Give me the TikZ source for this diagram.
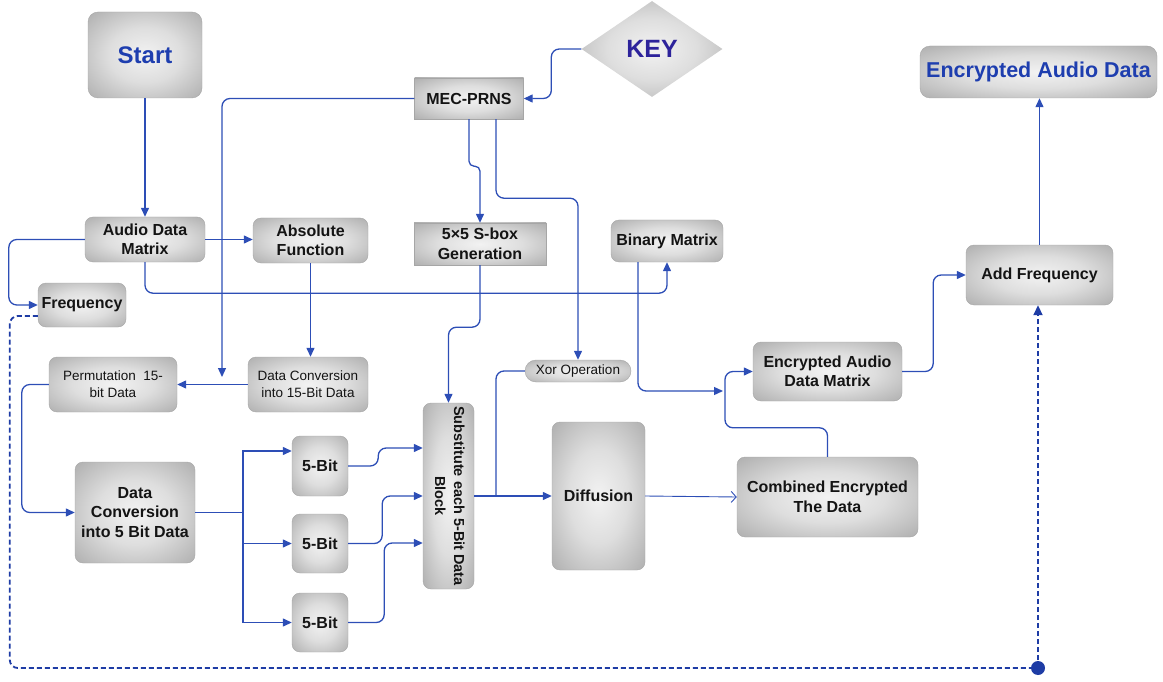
\documentclass[tikz,border=0pt]{standalone}
\usepackage{fontspec}
\setmainfont{Liberation Sans}
\usetikzlibrary{arrows.meta,shapes.geometric,calc}
\definecolor{lb}{RGB}{45,78,182}
\definecolor{db}{RGB}{30,60,165}
\definecolor{startblue}{RGB}{30,62,175}
\definecolor{keyblue}{RGB}{45,35,155}
\pgfdeclareradialshading{boxshade}{\pgfpoint{0bp}{0bp}}{color(0bp)=(black!5); color(16bp)=(black!13); color(34bp)=(black!30); color(48bp)=(black!46); color(72bp)=(black!54)}
\tikzset{
  box/.style={shading=boxshade, rounded corners=8pt, draw=black!35, line width=0.4pt,
    font=\bfseries\fontsize{16}{19.5}\selectfont, align=center, inner sep=0pt, text=black!92},
  sharpbox/.style={box, rounded corners=0pt},
  thinbox/.style={box, font=\fontsize{13.5}{17}\selectfont},
  conn/.style={draw=lb, line width=1.3pt, rounded corners=8pt, -{Triangle[length=9pt,width=8pt]}},
  plain/.style={draw=lb, line width=1.3pt, rounded corners=8pt},
  dashline/.style={draw=db, line width=1.8pt, dash pattern=on 5pt off 3pt, rounded corners=8pt}
}
\begin{document}
\begin{tikzpicture}[x=1pt,y=-1pt]
\useasboundingbox (0,0) rectangle (1163,682);

% nodes
\node[box, rounded corners=10pt, minimum width=114, minimum height=86, text=startblue,
  font=\bfseries\fontsize{24}{28}\selectfont] (start) at (145,55) {Start};
\node[diamond, shading=boxshade, minimum width=141, minimum height=96, inner sep=0pt,
  text=keyblue, font=\bfseries\fontsize{25}{28}\selectfont] (key) at (652,49) {KEY};
\node[sharpbox, minimum width=109, minimum height=41] (mec) at (469,98.5) {MEC-PRNS};
\node[box, rounded corners=10pt, minimum width=237, minimum height=52, text=startblue,
  font=\bfseries\fontsize{21.5}{24}\selectfont] (ead) at (1038.5,72) {Encrypted Audio Data};
\node[box, minimum width=120, minimum height=45] (adm) at (145,239.5) {Audio Data\\Matrix};
\node[box, minimum width=115, minimum height=45] (absf) at (310.5,240.5) {Absolute\\Function};
\node[sharpbox, minimum width=132, minimum height=42] (sbox) at (480,244) {5×5 S-box\\Generation};
\node[box, minimum width=112, minimum height=42] (bin) at (667,241) {Binary Matrix};
\node[box, minimum width=147, minimum height=60] (addf) at (1039.5,275) {Add Frequency};
\node[box, minimum width=88, minimum height=44] (freq) at (82,305) {Frequency};
\node[thinbox, minimum width=128, minimum height=55] (perm) at (113,384.5) {Permutation~~15-\\bit Data};
\node[thinbox, minimum width=120, minimum height=55] (dc15) at (308,384.5) {Data Conversion\\into 15-Bit Data};
\node[thinbox, rounded corners=11pt, minimum width=106, minimum height=22] (xor) at (578,371) {Xor Operation};
\node[box, minimum width=149, minimum height=59] (eadm) at (827.5,371.5) {Encrypted Audio\\Data Matrix};
\node[box, minimum width=51, minimum height=186, font=\bfseries\fontsize{14.5}{19}\selectfont] (subs) at (448.5,496)
  {\rotatebox{-90}{\begin{tabular}{@{}c@{}}Substitute each 5-Bit Data\\Block\end{tabular}}};
\node[box, minimum width=93, minimum height=148] (diff) at (598.5,496) {Diffusion};
\node[box, minimum width=181, minimum height=80] (comb) at (827.5,497) {Combined Encrypted\\The Data};
\node[box, minimum width=120, minimum height=101] (dc5) at (135,512.5) {Data\\Conversion\\into 5 Bit Data};
\node[box, minimum width=56, minimum height=60] (b1) at (320,466) {5-Bit};
\node[box, minimum width=56, minimum height=59] (b2) at (320,543.5) {5-Bit};
\node[box, minimum width=56, minimum height=59] (b3) at (320,622.5) {5-Bit};

% junction coordinates
\coordinate (j1) at (222,377);
\coordinate (br) at (243,512.5);
\coordinate (xj) at (496,496);
\coordinate (bj) at (723,391);
\coordinate (dot) at (1038,668);

% connectors
\draw[conn] (start.south) -- (adm.north);
\draw[conn] (key.west) -- ++(-30,0) |- (mec.east);
\draw[conn] (mec.west) -| (j1);
\draw[conn, rounded corners=5pt] (mec.south) -- ++(0,47) -| (sbox.north);
\draw[conn] ([xshift=27pt]mec.south) -- ++(0,79) -| (xor.north);
\draw[conn] (adm.east) -- (adm.east -| absf.west);
\draw[conn] (adm.west) -- ++(-76,0) |- (freq.west);
\draw[conn] (adm.south) -- ++(0,31) -| (bin.south);
\draw[conn] (absf.south) -- (absf.south |- dc15.north);
\draw[conn] (dc15.west) -- (dc15.west -| perm.east);
\draw[conn] (perm.west) -- ++(-27,0) |- (dc5.west);
\draw[plain] (dc5.east) -- (br);
\draw[conn, sharp corners] (br) |- ([yshift=15pt]b1.west);
\draw[conn, sharp corners] (br) |- (b2.west);
\draw[conn, sharp corners] (br) |- (b3.west);
\draw[conn] (b1.east) -- ++(30,0) |- ([yshift=48pt]subs.west);
\draw[conn] (b2.east) -- ++(34,0) |- (subs.west);
\draw[conn] (b3.east) -- ++(36,0) |- ([yshift=-47pt]subs.west);
\draw[conn] (sbox.south) -- ++(0,62) -| (subs.north);
\draw[conn] (subs.east) -- (diff.west);
\draw[plain] (xor.west) -| (xj);
\draw[draw=lb, line width=0.9pt, -{Straight Barb[length=5pt,width=11pt]}] (diff.east) -- (comb.west);
\draw[conn] ([xshift=-29pt]bin.south) |- (bj);
\draw[conn] (comb.north) -- ++(0,-29) -- ++(-102.5,0) |- (eadm.west);
\draw[conn] (eadm.east) -- ++(31,0) |- (addf.west);
\draw[conn] (addf.north) -- (addf.north |- ead.south);
\draw[dashline] ([yshift=-11pt]freq.west) -- ++(-28,0) |- (dot);
\draw[dashline, -{Triangle[length=10pt,width=9pt]}] (dot) -- (dot |- addf.south);
\fill[db] (dot) circle (7pt);
\end{tikzpicture}
\end{document}
